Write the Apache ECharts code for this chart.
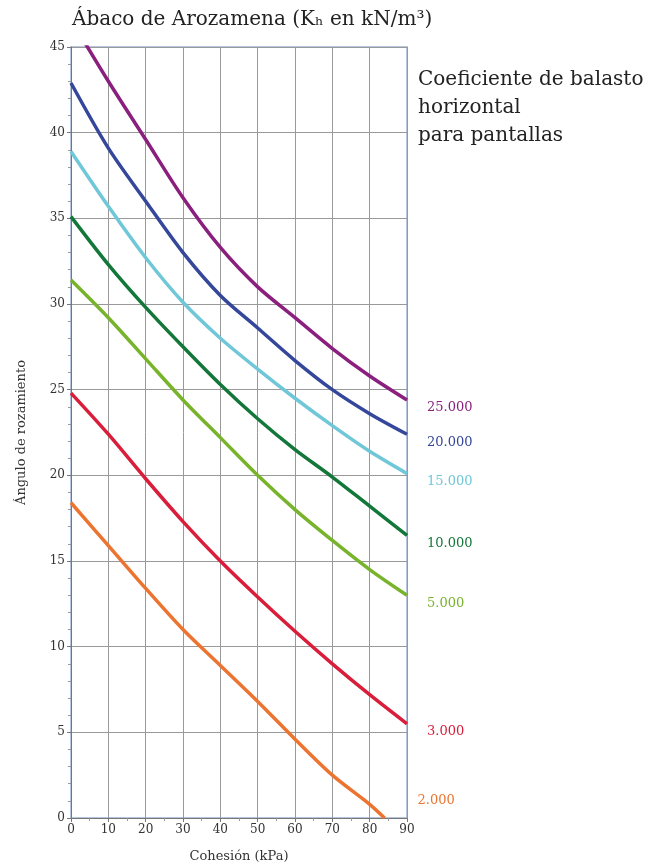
<!DOCTYPE html>
<html><head><meta charset="utf-8">
<script src="https://cdn.jsdelivr.net/npm/echarts@6/dist/echarts.min.js"></script>
<style>html,body{margin:0;padding:0;background:#fff}#c{width:662px;height:868px}</style>
</head><body><div id="c"></div>
<script>
const cohesion = [0,10,20,30,40,50,60,70,80,90];
const cohesionOrange = [0,10,20,30,40,50,60,70,80,84];
const k25000 = [46.6,43.0,39.6,36.2,33.3,31.0,29.2,27.4,25.8,24.4];
const k20000 = [42.9,39.1,36.0,33.0,30.5,28.6,26.7,25.0,23.6,22.4];
const k15000 = [38.9,35.7,32.7,30.1,28.0,26.2,24.5,22.9,21.4,20.1];
const k10000 = [35.1,32.3,29.8,27.5,25.3,23.3,21.5,19.9,18.2,16.5];
const k5000  = [31.4,29.2,26.8,24.4,22.2,20.0,18.0,16.2,14.5,13.0];
const k3000  = [24.8,22.4,19.8,17.3,15.0,12.9,10.9,9.0,7.2,5.5];
const k2000  = [18.4,15.9,13.4,11.0,8.9,6.8,4.6,2.5,0.8,0];
const names = ['25.000','20.000','15.000','10.000','5.000','3.000','2.000'];
const colors = ['#8a1f7e','#34479a','#6fc7d8','#13773a','#78b32c','#d81e3a','#ec7430'];
const serif = "'DejaVu Serif', 'Liberation Serif', serif";

const sets = [k25000,k20000,k15000,k10000,k5000,k3000,k2000];
const series = sets.map((vals,i)=>{
  const xs = i===6 ? cohesionOrange : cohesion;
  return {
    name: names[i], type:'line', smooth:0.3, symbol:'none', clip:true,
    data: xs.map((x,j)=>[x, vals[j]]),
    lineStyle:{color:colors[i], width:3.5},
    endLabel:{show:true, formatter:names[i], color:colors[i], fontFamily:serif, fontSize:13,
      offset: i===6 ? [25,-17] : [12,8]},
    z: 3
  };
});

const chart = echarts.init(document.getElementById('c'), null, {renderer:'canvas'});
chart.setOption({
  animation:false,
  title:[
    {text:'Ábaco de Arozamena (Kₕ en kN/m³)', left:67, top:5,
     textStyle:{fontFamily:serif, fontSize:20, fontWeight:'normal', color:'#222'}},
    {text:'Coeficiente de balasto\nhorizontal\npara pantallas', left:413, top:61,
     textStyle:{fontFamily:serif, fontSize:20, fontWeight:'normal', color:'#222', lineHeight:28}}
  ],
  grid:{left:71, right:255, top:47, bottom:47, show:true, borderColor:'#9fb3d3', borderWidth:1.5},
  xAxis:{type:'value', min:0, max:90, interval:10,
    name:'Cohesión (kPa)', nameLocation:'middle', nameGap:32,
    nameTextStyle:{fontFamily:serif, fontSize:13, color:'#333'},
    axisLine:{show:true, lineStyle:{color:'#777'}},
    axisTick:{show:true, length:4, lineStyle:{color:'#777'}},
    minorTick:{show:true, splitNumber:2, length:3, lineStyle:{color:'#999'}},
    axisLabel:{fontFamily:serif, fontSize:12, color:'#333', margin:6},
    splitLine:{show:true, lineStyle:{color:'#999', width:1}}
  },
  yAxis:{type:'value', min:0, max:45, interval:5,
    name:'Ángulo de rozamiento', nameLocation:'middle', nameGap:43,
    nameTextStyle:{fontFamily:serif, fontSize:13, color:'#333'},
    axisLine:{show:true, lineStyle:{color:'#777'}},
    axisTick:{show:true, length:4, lineStyle:{color:'#777'}},
    minorTick:{show:true, splitNumber:5, length:3, lineStyle:{color:'#999'}},
    axisLabel:{fontFamily:serif, fontSize:12, color:'#333', margin:6},
    splitLine:{show:true, lineStyle:{color:'#999', width:1}}
  },
  series: series
});
</script></body></html>
